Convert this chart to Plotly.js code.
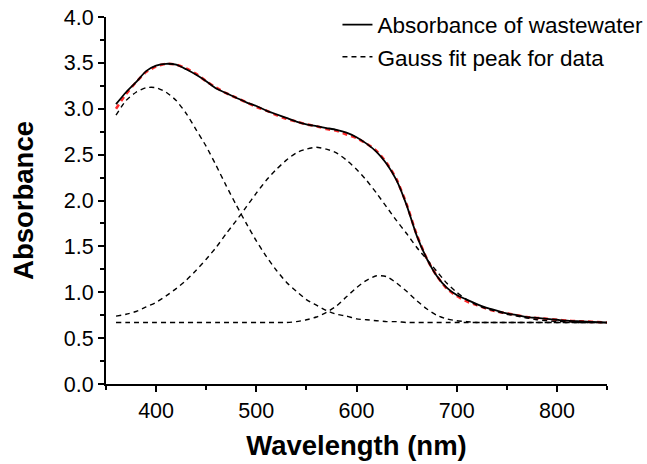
<!DOCTYPE html>
<html>
<head>
<meta charset="utf-8">
<script src="https://cdn.plot.ly/plotly-3.0.1.min.js"></script>
<style>html,body{margin:0;padding:0;background:#fff;}#chart{width:647px;height:464px;}</style>
</head>
<body>
<div id="chart"></div>
<script>
const wavelength = [360,370,380,390,400,410,420,430,440,450,460,470,480,490,500,510,520,530,540,550,560,570,580,590,600,610,620,630,640,650,660,670,680,690,700,710,720,730,740,750,760,770,780,790,800,810,820,830,840,850];

const absorbance = [3.05,3.18,3.29,3.41,3.47,3.49,3.48,3.43,3.37,3.30,3.22,3.17,3.12,3.07,3.03,2.98,2.94,2.90,2.86,2.83,2.81,2.79,2.77,2.74,2.69,2.62,2.53,2.40,2.22,1.95,1.62,1.37,1.18,1.05,0.97,0.92,0.87,0.83,0.80,0.77,0.75,0.73,0.72,0.71,0.70,0.69,0.685,0.68,0.675,0.67];

const cumulativeFit = [3.00,3.16,3.29,3.40,3.46,3.49,3.48,3.44,3.38,3.30,3.23,3.17,3.12,3.07,3.02,2.98,2.93,2.89,2.86,2.83,2.81,2.78,2.76,2.72,2.68,2.62,2.54,2.41,2.23,1.96,1.63,1.37,1.18,1.04,0.96,0.90,0.86,0.82,0.79,0.77,0.75,0.73,0.72,0.71,0.70,0.69,0.685,0.68,0.675,0.67];

const gaussPeak1 = [2.93,3.09,3.18,3.23,3.23,3.18,3.09,2.95,2.77,2.59,2.38,2.16,1.95,1.75,1.56,1.39,1.24,1.11,1.01,0.92,0.86,0.80,0.76,0.74,0.71,0.70,0.69,0.68,0.68,0.67,0.67,0.67,0.67,0.67,0.67,0.67,0.67,0.67,0.67,0.67,0.67,0.67,0.67,0.67,0.67,0.67,0.67,0.67,0.67,0.67];

const gaussPeak2 = [0.74,0.76,0.79,0.84,0.89,0.96,1.04,1.13,1.24,1.36,1.49,1.64,1.78,1.93,2.08,2.22,2.34,2.44,2.52,2.56,2.58,2.56,2.52,2.44,2.34,2.22,2.08,1.93,1.78,1.64,1.49,1.36,1.23,1.10,1.00,0.92,0.86,0.82,0.79,0.76,0.74,0.72,0.70,0.69,0.68,0.68,0.67,0.67,0.67,0.67];

const gaussPeak3 = [0.67,0.67,0.67,0.67,0.67,0.67,0.67,0.67,0.67,0.67,0.67,0.67,0.67,0.67,0.67,0.67,0.67,0.67,0.68,0.70,0.73,0.78,0.85,0.95,1.05,1.13,1.18,1.17,1.10,1.01,0.91,0.82,0.75,0.71,0.69,0.68,0.67,0.67,0.67,0.67,0.67,0.67,0.67,0.67,0.67,0.67,0.67,0.67,0.67,0.67];

const seriesNames = ['Absorbance of wastewater', 'Gauss fit peak for data'];

const FONT = 'Liberation Sans, Arial, Helvetica, sans-serif';
const dashStyle = '5px,4px';

const traces = [
  {x: wavelength, y: cumulativeFit, mode: 'lines', showlegend: false, hoverinfo: 'skip',
   line: {color: '#ff2a2a', width: 2.6, dash: dashStyle, shape: 'spline', smoothing: 0.6}},
  {x: wavelength, y: absorbance, mode: 'lines', name: seriesNames[0], legendgroup: 'a',
   line: {color: '#000000', width: 1.8, shape: 'spline', smoothing: 0.6}},
  {x: wavelength, y: gaussPeak1, mode: 'lines', name: seriesNames[1], legendgroup: 'b',
   line: {color: '#000000', width: 1.4, dash: dashStyle, shape: 'spline', smoothing: 0.6}},
  {x: wavelength, y: gaussPeak2, mode: 'lines', showlegend: false, legendgroup: 'b',
   line: {color: '#000000', width: 1.4, dash: dashStyle, shape: 'spline', smoothing: 0.6}},
  {x: wavelength, y: gaussPeak3, mode: 'lines', showlegend: false, legendgroup: 'b',
   line: {color: '#000000', width: 1.4, dash: dashStyle, shape: 'spline', smoothing: 0.6}}
];

const axisCommon = {
  showline: true, linecolor: '#000', linewidth: 2, mirror: false,
  showgrid: false, zeroline: false,
  ticks: 'outside', ticklen: 6, tickwidth: 2, tickcolor: '#000',
  tickfont: {family: FONT, size: 21.5, color: '#000'},
  automargin: false
};

const layout = {
  width: 647, height: 464,
  margin: {l: 106, r: 40, t: 17, b: 80, autoexpand: false},
  paper_bgcolor: '#fff', plot_bgcolor: '#fff',
  font: {family: FONT, color: '#000'},
  xaxis: Object.assign({}, axisCommon, {
    range: [350, 850], dtick: 100, tick0: 0,
    minor: {dtick: 50, tick0: 0, ticks: 'outside', ticklen: 4, tickwidth: 2, tickcolor: '#000', showgrid: false},
    title: {text: 'Wavelength (nm)', font: {family: FONT, size: 27.5, weight: 'bold', color: '#000'}, standoff: 14}
  }),
  yaxis: Object.assign({}, axisCommon, {
    range: [0, 4], dtick: 0.5, tick0: 0, tickformat: '.1f',
    minor: {dtick: 0.25, tick0: 0, ticks: 'outside', ticklen: 4, tickwidth: 2, tickcolor: '#000', showgrid: false},
    title: {text: 'Absorbance', font: {family: FONT, size: 27.5, weight: 'bold', color: '#000'}, standoff: 22}
  }),
  legend: {
    x: 0.462, y: 1.037, xanchor: 'left', yanchor: 'top',
    bgcolor: 'rgba(0,0,0,0)', borderwidth: 0,
    font: {family: FONT, size: 22.5, color: '#000'},
    traceorder: 'normal', tracegroupgap: 0
  },
  showlegend: true
};

Plotly.newPlot('chart', traces, layout, {staticPlot: true, displayModeBar: false});
</script>
</body>
</html>
